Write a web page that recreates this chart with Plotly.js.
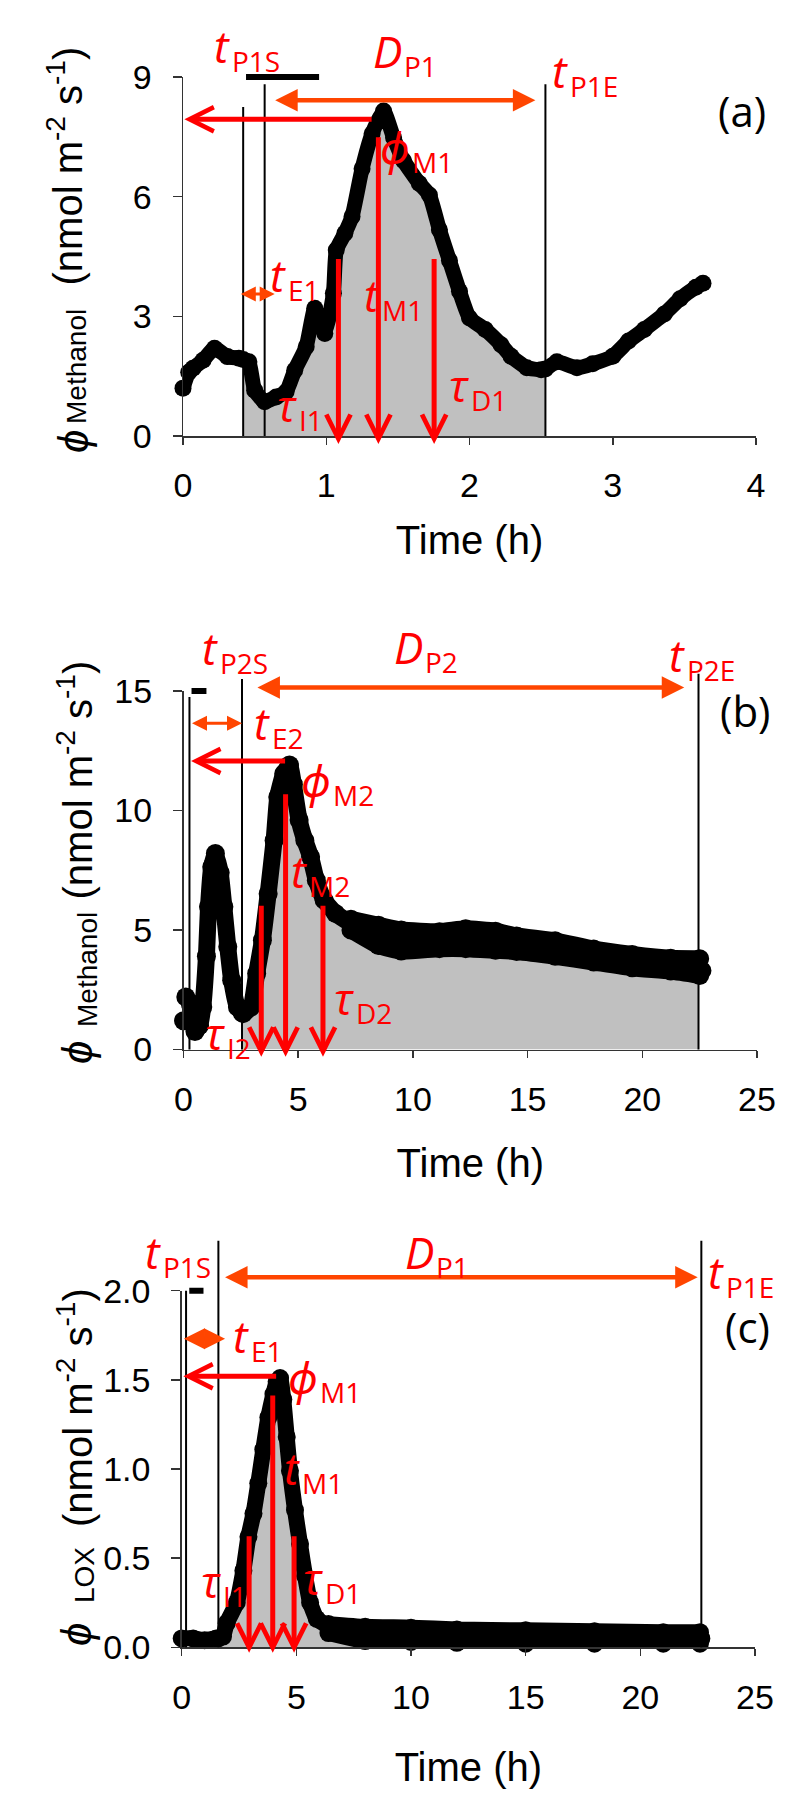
<!DOCTYPE html>
<html><head><meta charset="utf-8">
<script src="https://cdn.plot.ly/plotly-3.0.1.min.js"></script>
<style>html,body{margin:0;padding:0;background:#fff}</style>
</head><body><div id="chart" style="width:800px;height:1807px"></div>
<script>
// ---------------- Panel (a): methanol flux, first event ----------------
const timeA = [0.00,0.04,0.07,0.14,0.22,0.31,0.39,0.42,0.46,0.50,0.57,0.65,0.72,0.78,0.86,0.92,0.99,1.05,1.07,1.13,1.18,1.25,1.32,1.40,1.47,1.54,1.65,1.72,1.79,1.86,1.93,2.00,2.11,2.22,2.29,2.40,2.50,2.53,2.61,2.75,2.86,3.00,3.11,3.22,3.36,3.47,3.58,3.63];
const fluxA = [1.20,1.60,1.70,1.90,2.20,1.99,1.95,1.92,1.86,1.15,0.86,0.98,1.11,1.65,2.24,3.20,2.57,3.58,4.66,5.08,5.50,6.70,7.58,8.15,7.48,6.90,6.33,6.04,5.17,4.40,3.63,2.96,2.67,2.29,2.00,1.71,1.66,1.68,1.86,1.71,1.81,2.00,2.38,2.67,3.06,3.44,3.73,3.83];
const ticksAx = [0,1,2,3,4];
const ticksAy = [0,3,6,9];
const fillRangeA = [0.42, 2.53];
const eventLinesA = [0.42, 0.57, 2.53];
const eventTopsA = [8.25, 8.82, 8.82];
const exposureBarA = [0.44, 0.95];
const peakArrowA = [1.32, 0.01, 7.94];      // from x, to x, at flux
const durationArrowA = [0.64, 2.46, 8.42];
const riseArrowA = [0.40, 0.64, 3.56];
const dropTimesA = [1.085, 1.364, 1.753];
const dropTopsA = [4.45, 7.5, 4.45];
const dropEndA = -0.2;
const labelMainA = ['t','D','t','ϕ','t','t','τ','τ'];
const labelSubA  = ['P1S','P1','P1E','M1','E1','M1','I1','D1'];
const labelXA = [0.335,1.536,2.695,1.595,0.726,1.382,0.803,2.003];
const labelYA = [9.78,9.65,9.15,7.24,4.04,3.54,0.785,1.29];
const tagA = ['(a)', 3.9, 8.17];

// ---------------- Panel (b): methanol flux, second event ----------------
const timeB = [0.00,0.10,0.30,0.50,0.70,0.84,1.00,1.09,1.23,1.39,1.60,1.76,1.93,2.10,2.35,2.55,2.60,2.94,3.19,3.44,3.69,3.95,4.11,4.37,4.62,4.79,5.04,5.29,5.54,5.79,6.13,6.63,7.30,7.81,9.49,11.16,12.50,14.52,16.20,17.88,19.56,21.24,22.45,22.60];
const fluxB = [1.20,2.20,1.90,0.75,1.00,1.78,3.90,5.97,7.64,8.20,7.40,5.97,4.30,2.90,1.78,1.55,1.50,1.78,3.18,4.57,6.52,8.75,10.57,11.54,11.90,11.10,9.60,8.75,8.06,7.08,6.25,5.69,5.27,4.94,4.55,4.58,4.62,4.38,4.20,3.92,3.68,3.53,3.40,3.30];
const bandTimeB  = [7.3,8.5,9.49,11.16,12.3,13.6,14.52,16.2,17.88,19.56,21.24,22.5];
const bandUpperB = [5.45,5.20,5.00,4.93,5.05,4.95,4.75,4.55,4.20,3.98,3.82,3.80];
const bandLowerB = [5.00,4.35,4.12,4.22,4.22,4.15,4.10,3.90,3.66,3.42,3.28,3.10];
const ticksBx = [0,5,10,15,20,25];
const ticksBy = [0,5,10,15];
const fillRangeB = [2.55, 22.45];
const eventLinesB = [0.26, 2.55, 22.45];
const eventTopsB = [14.75, 15.5, 15.72];
const exposureBarB = [0.35, 1.0];
const peakArrowB = [4.45, 0.33, 12.07];
const durationArrowB = [3.2, 21.83, 15.15];
const riseArrowB = [0.35, 2.55, 13.65];
const dropTimesB = [3.39, 4.45, 6.08];
const dropTopsB = [6.04, 10.7, 6.04];
const dropEndB = -0.3;
const labelMainB = ['t','D','t','t','ϕ','t','τ','τ'];
const labelSubB  = ['P2S','P2','P2E','E2','M2','M2','D2','I2'];
const labelXB = [1.545,10.47,21.91,3.8,6.48,5.44,7.46,1.85];
const labelYB = [16.8,16.84,16.5,13.66,11.28,7.47,2.15,0.69];
const tagB = ['(b)', 24.48, 14.2];

// ---------------- Panel (c): LOX flux ----------------
const timeC = [0.00,0.50,1.00,1.50,1.60,1.80,1.96,2.40,2.69,2.91,3.13,3.34,3.56,3.78,4.00,4.14,4.29,4.43,4.58,4.72,4.94,5.16,5.38,5.60,5.89,6.33,7.05,8.20,9.67,11.10,12.20,14.40,16.70,18.90,21.10,22.66];
const fluxC = [0.05,0.05,0.04,0.05,0.05,0.06,0.135,0.25,0.43,0.62,0.75,0.92,1.11,1.29,1.42,1.49,1.51,1.39,1.18,0.99,0.77,0.58,0.40,0.25,0.16,0.125,0.09,0.075,0.07,0.07,0.06,0.06,0.055,0.05,0.05,0.05];
const bandTimeC  = [6.4,8.0,10.0,12.0,15.0,18.0,21.0,22.6];
const bandUpperC = [0.13,0.115,0.11,0.10,0.095,0.09,0.085,0.085];
const bandLowerC = [0.08,0.035,0.03,0.025,0.02,0.02,0.02,0.02];
const ticksCx = [0,5,10,15,20,25];
const ticksCy = [0,0.5,1.0,1.5,2.0];
const fillRangeC = [1.6, 22.66];
const eventLinesC = [0.19, 1.6, 22.66];
const eventTopsC = [2.0, 2.28, 2.28];
const exposureBarC = [0.33, 0.95];
const peakArrowC = [4.14, 0.07, 1.52];
const durationArrowC = [1.87, 22.5, 2.075];
const riseArrowC = [0.07, 1.89, 1.73];
const dropTimesC = [2.94, 3.97, 4.9];
const dropTopsC = [0.625, 1.415, 0.625];
const dropEndC = -0.03;
const labelMainC = ['t','D','t','t','ϕ','t','τ','τ'];
const labelSubC  = ['P1S','P1','P1E','E1','M1','M1','I1','D1'];
const labelXC = [-0.86,11.05,23.7,2.98,5.99,5.21,1.76,6.2];
const labelYC = [2.217,2.217,2.105,1.744,1.518,1.006,0.37,0.389];
const tagC = ['(c)', 24.67, 1.80];

// y-axis title pieces
const yTitleSub = ['Methanol', 'Methanol', 'LOX'];
const yTitleUnits = '(nmol m<sup>-2</sup> s<sup>-1</sup>)';

// ---------------- styling / layout ----------------
const W = 800, H = 1807;
const RED = '#ff0000', ORANGE = '#ff4500', GRAY = '#c0c0c0';
const AXFONT = 'Liberation Sans, Arial, sans-serif';
const LBLFONT = 'Open Sans, Noto Sans, DejaVu Sans, sans-serif';

const panels = [
  {xa:'x', ya:'y', t:timeA, f:fluxA, tx:ticksAx, ty:ticksAy, tyText:ticksAy.map(String),
   px:[183,756], py:[77,436], fillR:fillRangeA, lines:eventLinesA, tops:eventTopsA, bar:exposureBarA,
   peak:peakArrowA, dur:durationArrowA, rise:riseArrowA, dropX:dropTimesA, dropTop:dropTopsA, dropEnd:dropEndA,
   lm:labelMainA, ls:labelSubA, lx:labelXA, ly:labelYA, tag:tagA, ms:17, lw:15, xstand:22, riseScale:[3,1.0],
   ysub:yTitleSub[0], yt:{units:[65,166.5], sub:[76,367], sym:[73,442]}},
  {xa:'x2', ya:'y2', t:timeB, f:fluxB, bt:bandTimeB, bu:bandUpperB, bl:bandLowerB, tx:ticksBx, ty:ticksBy, tyText:ticksBy.map(String),
   px:[183.5,757], py:[691,1049.5], fillR:fillRangeB, lines:eventLinesB, tops:eventTopsB, bar:exposureBarB,
   peak:peakArrowB, dur:durationArrowB, rise:riseArrowB, dropX:dropTimesB, dropTop:dropTopsB, dropEnd:dropEndB,
   lm:labelMainB, ls:labelSubB, lx:labelXB, ly:labelYB, tag:tagB, ms:19, lw:17, xstand:32, riseScale:[3,1.0],
   ysub:yTitleSub[1], yt:{units:[75,780.5], sub:[87,970], sym:[77,1053]}},
  {xa:'x3', ya:'y3', t:timeC, f:fluxC, bt:bandTimeC, bu:bandUpperC, bl:bandLowerC, tx:ticksCx, ty:ticksCy, tyText:ticksCy.map(v=>v.toFixed(1)),
   px:[181.7,755], py:[1290.7,1647.3], fillR:fillRangeC, lines:eventLinesC, tops:eventTopsC, bar:exposureBarC,
   peak:peakArrowC, dur:durationArrowC, rise:riseArrowC, dropX:dropTimesC, dropTop:dropTopsC, dropEnd:dropEndC,
   lm:labelMainC, ls:labelSubC, lx:labelXC, ly:labelYC, tag:tagC, ms:18, lw:16, xstand:38, riseScale:[4,1.05],
   ysub:yTitleSub[2], yt:{units:[75,1408], sub:[84,1575], sym:[76,1635]}}
];

const traces = [], shapes = [], annotations = [];
const layout = {width:W, height:H, margin:{l:0,r:0,t:0,b:0}, paper_bgcolor:'#fff', plot_bgcolor:'rgba(0,0,0,0)', showlegend:false};
const SMOOTH = {shape:'spline', smoothing:0.5};

panels.forEach(p => {
  const xr = [p.tx[0], p.tx[p.tx.length-1]];
  const yr = [p.ty[0], p.ty[p.ty.length-1]];
  const fx = v => (v - xr[0]) / (xr[1] - xr[0]);
  const fy = v => (v - yr[0]) / (yr[1] - yr[0]);
  const xKey = p.xa === 'x' ? 'xaxis' : 'xaxis' + p.xa.slice(1);
  const yKey = p.ya === 'y' ? 'yaxis' : 'yaxis' + p.ya.slice(1);
  const common = {showline:true, linecolor:'#333', linewidth:1.5, ticks:'outside', tickwidth:1.5, tickcolor:'#333',
    showgrid:false, zeroline:false, fixedrange:true, tickfont:{family:AXFONT, size:34, color:'#000'}};
  layout[xKey] = Object.assign({}, common, {domain:[p.px[0]/W, p.px[1]/W], range:xr, anchor:p.ya,
    tickvals:p.tx, ticktext:p.tx.map(String), ticklen:7, ticklabelstandoff:12,
    title:{text:'Time (h)', font:{family:AXFONT, size:40, color:'#000'}, standoff:p.xstand}});
  layout[yKey] = Object.assign({}, common, {domain:[1 - p.py[1]/H, 1 - p.py[0]/H], range:yr, anchor:p.xa,
    tickvals:p.ty, ticktext:p.tyText, ticklen:9, ticklabelstandoff:14});

  // y-axis title, drawn in three rotated pieces so the subscript sits as in the original
  const yt = (txt, pos, size) => ({xref:'paper', yref:'paper', x:pos[0]/W, y:1 - pos[1]/H, text:txt, textangle:-90,
    showarrow:false, xanchor:'center', yanchor:'middle', borderpad:0, font:{family:AXFONT, size:size, color:'#000'}});
  annotations.push(yt(yTitleUnits, p.yt.units, 40));
  annotations.push(yt(p.ysub, p.yt.sub, 28));
  annotations.push(yt('<i>ϕ</i>', p.yt.sym, 42));

  // grey integrated area
  const fxs = [], fys = [];
  p.t.forEach((v,i) => { if (v >= p.fillR[0] - 1e-9 && v <= p.fillR[1] + 1e-9) { fxs.push(v); fys.push(p.f[i]); } });
  traces.push({x:fxs, y:fys, xaxis:p.xa, yaxis:p.ya, mode:'lines', fill:'tozeroy', fillcolor:GRAY,
    line:Object.assign({width:0, color:'rgba(0,0,0,0)'}, SMOOTH), hoverinfo:'skip'});
  // noisy band envelope
  if (p.bt) {
    traces.push({x:p.bt, y:p.bl, xaxis:p.xa, yaxis:p.ya, mode:'lines+markers', cliponaxis:false,
      line:Object.assign({color:'#000', width:p.lw}, SMOOTH), marker:{color:'#000', size:p.ms}, hoverinfo:'skip'});
    traces.push({x:p.bt, y:p.bu, xaxis:p.xa, yaxis:p.ya, mode:'lines+markers', cliponaxis:false, fill:'tonexty', fillcolor:'#000',
      line:Object.assign({color:'#000', width:p.lw}, SMOOTH), marker:{color:'#000', size:p.ms}, hoverinfo:'skip'});
  }
  // flux series
  traces.push({x:p.t, y:p.f, xaxis:p.xa, yaxis:p.ya, mode:'lines+markers', cliponaxis:false,
    line:Object.assign({color:'#000', width:p.lw}, SMOOTH), marker:{color:'#000', size:p.ms}, hoverinfo:'skip'});

  // event lines
  p.lines.forEach((v,i) => shapes.push({type:'line', xref:p.xa, yref:p.ya + ' domain', x0:v, x1:v, y0:0, y1:fy(p.tops[i]),
    line:{color:'#000', width:2}}));
  shapes.push({type:'line', xref:p.xa, yref:p.ya + ' domain', x0:p.bar[0], x1:p.bar[1], y0:1, y1:1, line:{color:'#000', width:6}});

  const arrow = (x0, y0, x1, y1, st) => ({
    xref:p.xa + ' domain', yref:p.ya + ' domain', axref:p.xa + ' domain', ayref:p.ya + ' domain',
    x:fx(x1), y:fy(y1), ax:fx(x0), ay:fy(y0), text:'', showarrow:true,
    arrowhead:st.head, arrowsize:st.size, arrowwidth:st.width, arrowcolor:st.color,
    arrowside: st.both ? 'end+start' : 'end', startarrowhead:st.head, startarrowsize:st.size,
    standoff:0, startstandoff:0, borderpad:0});
  const redSt = {head:5, width:5, size:0.95, color:RED};
  const durSt = {head:2, width:4.5, size:1.0, color:ORANGE, both:true};
  const riseSt = {head:2, width:p.riseScale[0], size:p.riseScale[1], color:ORANGE, both:true};

  annotations.push(arrow(p.peak[0], p.peak[2], p.peak[1], p.peak[2], redSt));
  annotations.push(arrow(p.dur[0], p.dur[2], p.dur[1], p.dur[2], durSt));
  annotations.push(arrow(p.rise[0], p.rise[2], p.rise[1], p.rise[2], riseSt));
  p.dropX.forEach((v,i) => annotations.push(arrow(v, p.dropTop[i], v, p.dropEnd, redSt)));

  p.lm.forEach((m,i) => {
    annotations.push({xref:p.xa + ' domain', yref:p.ya + ' domain', x:fx(p.lx[i]), y:fy(p.ly[i]),
      text:'<i>' + m + '</i>', showarrow:false, xanchor:'right', yanchor:'middle', borderpad:0,
      font:{family:LBLFONT, size:44, color:RED}});
    annotations.push({xref:p.xa + ' domain', yref:p.ya + ' domain', x:fx(p.lx[i]), y:fy(p.ly[i]),
      text:p.ls[i], showarrow:false, xanchor:'left', yanchor:'middle', yshift:-15, borderpad:0,
      font:{family:LBLFONT, size:28, color:RED}});
  });
  annotations.push({xref:p.xa + ' domain', yref:p.ya + ' domain', x:fx(p.tag[1]), y:fy(p.tag[2]),
    text:p.tag[0], showarrow:false, xanchor:'center', yanchor:'middle', font:{family:LBLFONT, size:42, color:'#000'}});
});

layout.shapes = shapes;
layout.annotations = annotations;
Plotly.newPlot('chart', traces, layout, {staticPlot:true, displayModeBar:false});
</script></body></html>
